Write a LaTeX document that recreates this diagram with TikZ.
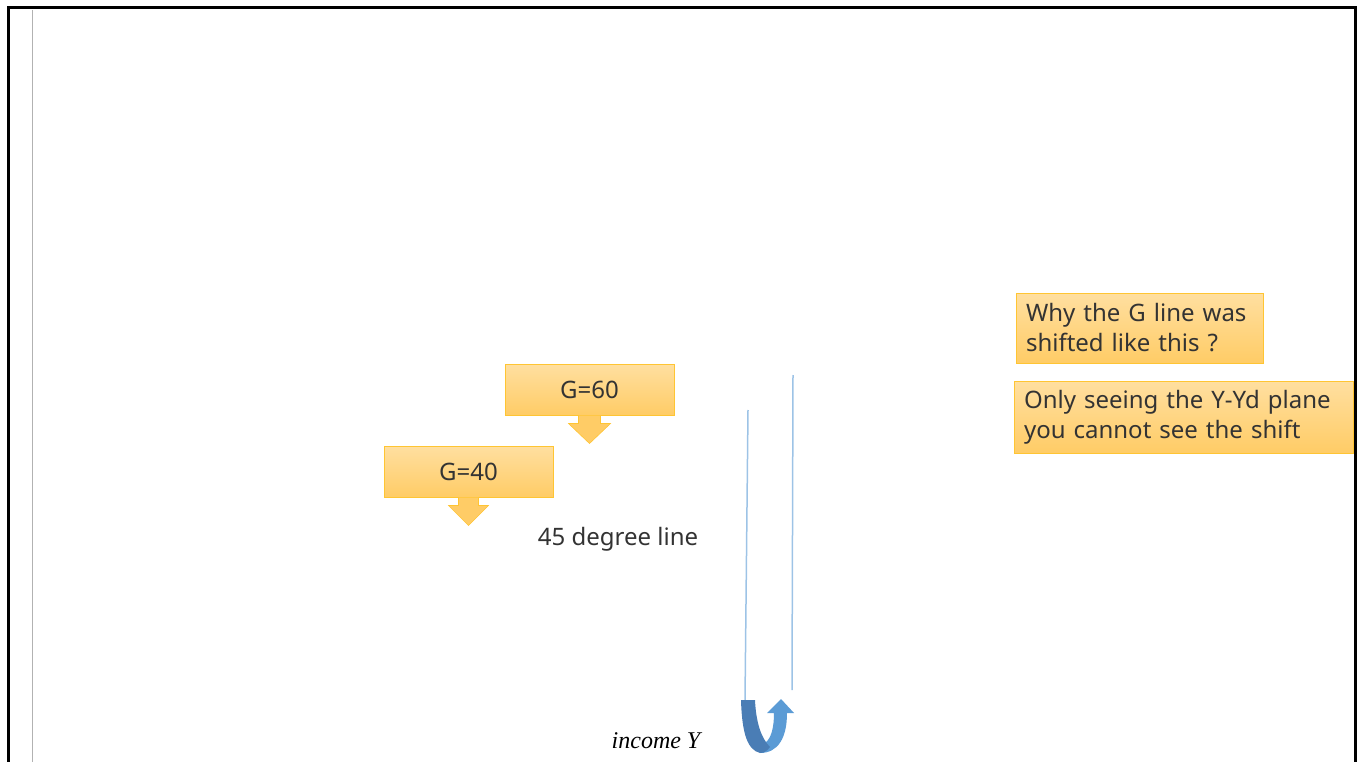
\documentclass[tikz,border=0pt]{standalone}
\usepackage{fontspec}
\setmainfont{Noto Sans}
\newfontfamily\serifit{Liberation Serif}
\definecolor{boxtop}{HTML}{FFDFA0}
\definecolor{boxbot}{HTML}{FFCC66}
\definecolor{boxline}{HTML}{FFC533}
\definecolor{txt}{HTML}{333333}
\definecolor{lineblue}{HTML}{9DC3E6}
\definecolor{darkblue}{HTML}{4A7DB5}
\definecolor{midblue}{HTML}{5B9BD5}
\tikzset{
  orangebox/.style={draw=boxline, line width=1pt, top color=boxtop, bottom color=boxbot, text=txt, font=\fontsize{24}{30}\selectfont, inner sep=0pt},
  downarrow/.style={fill=boxbot, draw=boxline, line width=0.6pt},
  bluelink/.style={draw=lineblue, line width=1.5pt},
  plaintext/.style={text=txt, font=\fontsize{24}{30}\selectfont}
}
\begin{document}
\begin{tikzpicture}[x=1pt,y=-1pt]
\useasboundingbox (0,0) rectangle (1363,762);
% frame
\draw[line width=3pt, black] (8,762) -- (8,8) -- (1355,8) -- (1355,762);
\draw[line width=1pt, black!30] (32,10) -- (32,762);
% boxes
\node[orangebox, minimum width=169pt, minimum height=51pt] (g60) at (589.5,389.5) {G=60};
\node[orangebox, minimum width=169pt, minimum height=51pt] (g40) at (468.5,471.5) {G=40};
\node[orangebox, minimum width=247pt, minimum height=70pt, align=left, text width=227pt] (why) at (1139.5,328) {Why the G line was\\shifted like this ?};
\node[orangebox, minimum width=339pt, minimum height=72pt, align=left, text width=319pt] (only) at (1183.5,417) {Only seeing the Y-Yd plane\\you cannot see the shift};
% down arrows
\draw[downarrow] ([xshift=-11pt]g60.south) -- ++(0,8) -- ++(-10,0) -- ([yshift=-28pt]g60.south) -- ([xshift=21pt,yshift=-8pt]g60.south) -- ++(-10,0) -- ([xshift=11pt]g60.south);
\draw[downarrow] ([xshift=-10pt]g40.south) -- ++(0,8) -- ++(-10,0) -- ([yshift=-28pt]g40.south) -- ([xshift=20pt,yshift=-8pt]g40.south) -- ++(-10,0) -- ([xshift=10pt]g40.south);
% text
\node[plaintext] (deg) at (618,539) {45 degree line};
\node[text=black, font=\fontsize{24}{28}\selectfont] (inc) at (656,741) {\serifit\itshape income\ Y};
% blue lines
\coordinate (l1a) at (748,410);
\coordinate (l1b) at (745,700);
\coordinate (l2a) at (793,375);
\coordinate (l2b) at (792,690);
\draw[bluelink] (l1a) -- (l1b);
\draw[bluelink] (l2a) -- (l2b);
% U-turn arrow
\fill[midblue] (760,753) .. controls (778,753) and (787,738) .. (787,713)
  -- (794,713) -- (781,699) -- (767,713) -- (774,713)
  .. controls (774,728) and (771,738) .. (766,742) -- cycle;
\fill[darkblue] (741,700) -- (755,700)
  .. controls (756,722) and (761,738) .. (770,747)
  .. controls (767,751) and (764,753) .. (760,753)
  .. controls (748,750) and (742,735) .. (741,700) -- cycle;
\end{tikzpicture}
\end{document}
